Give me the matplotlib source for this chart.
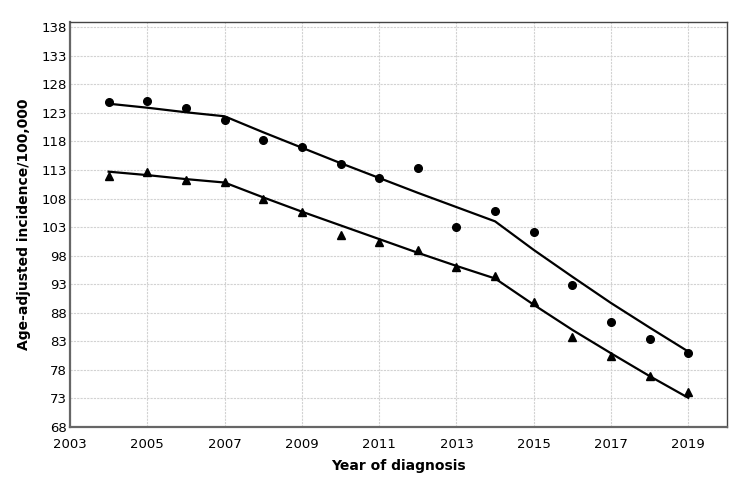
import matplotlib
matplotlib.use('Agg')
import matplotlib.pyplot as plt

# data
years = list(range(2004, 2020))
circle_obs = [124.9, 125.1, 123.8, 121.7, 118.3, 117.1, 114.0, 111.6,
              113.4, 103.1, 105.9, 102.2, 92.9, 86.3, 83.4, 81.0]
circle_fit = [124.6, 123.9, 123.1, 122.4, 119.6, 116.9, 114.2, 111.6,
              109.0, 106.5, 104.0, 99.0, 94.3, 89.7, 85.4, 81.2]
triangle_obs = [112.0, 112.6, 111.2, 110.9, 108.0, 105.7, 101.7, 100.4,
                98.9, 96.0, 94.5, 89.9, 83.7, 80.4, 77.0, 74.1]
triangle_fit = [112.7, 112.1, 111.4, 110.8, 108.2, 105.7, 103.3, 100.9,
                98.5, 96.2, 94.0, 89.4, 85.0, 80.9, 76.9, 73.1]
xticks = list(range(2003, 2020, 2))
yticks = list(range(68, 139, 5))

fig = plt.figure(figsize=(7.5, 4.79), dpi=100)
ax = fig.add_axes([0.0933, 0.1086, 0.876, 0.8454])

ax.plot(years, circle_fit, color='black', lw=1.6, zorder=3)
ax.plot(years, triangle_fit, color='black', lw=1.6, zorder=3)
ax.plot(years, circle_obs, 'o', color='black', ms=5.5, zorder=4)
ax.plot(years, triangle_obs, '^', color='black', ms=5.5, zorder=4)

ax.set_xlim(2003, 2020)
ax.set_ylim(68, 138.9)
ax.set_xticks(xticks)
ax.set_yticks(yticks)
ax.tick_params(length=0, labelsize=9.5)
ax.tick_params(axis='x', pad=8)
ax.tick_params(axis='y', pad=2)
ax.grid(True, color='#d2d2d2', ls=(0, (2, 1)), lw=0.8)
ax.set_axisbelow(True)
for s in ['left', 'bottom']:
    ax.spines[s].set_color('#666666')
    ax.spines[s].set_linewidth(1.6)
for s in ['top', 'right']:
    ax.spines[s].set_color('#444444')
    ax.spines[s].set_linewidth(1.0)

ax.set_xlabel('Year of diagnosis', fontsize=10, fontweight='bold', labelpad=6)
ax.set_ylabel('Age-adjusted incidence/100,000', fontsize=10, fontweight='bold', labelpad=8)

fig.savefig('out.png', dpi=100)
